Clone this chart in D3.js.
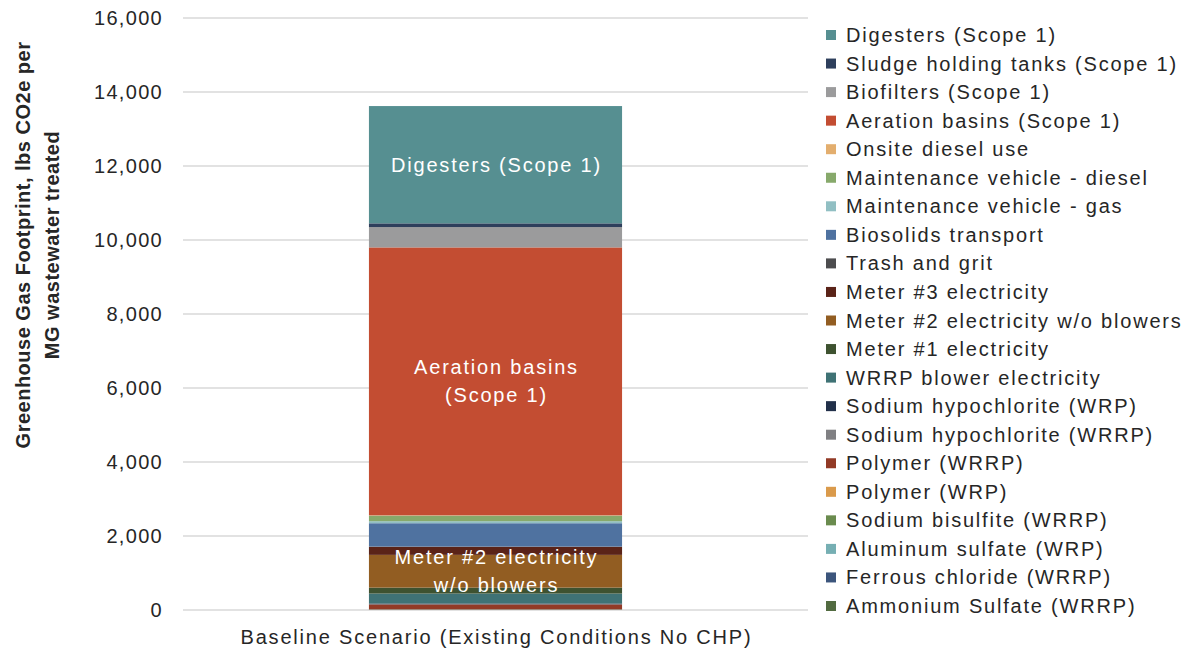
<!DOCTYPE html>
<html>
<head>
<meta charset="utf-8">
<script src="https://cdn.jsdelivr.net/npm/d3@7"></script>
<style>
  body { margin: 0; background: #fff; }
  text { font-family: "Liberation Sans", Arial, sans-serif; }
</style>
</head>
<body>
<svg id="chart" width="1187" height="654"></svg>
<script>
// series in stacking order, bottom first (legend lists them reversed)
const seriesNames = [
  "Ammonium Sulfate (WRRP)", "Ferrous chloride (WRRP)", "Aluminum sulfate (WRP)",
  "Sodium bisulfite (WRRP)", "Polymer (WRP)", "Polymer (WRRP)",
  "Sodium hypochlorite (WRRP)", "Sodium hypochlorite (WRP)", "WRRP blower electricity",
  "Meter #1 electricity", "Meter #2 electricity w/o blowers", "Meter #3 electricity",
  "Trash and grit", "Biosolids transport", "Maintenance vehicle - gas",
  "Maintenance vehicle - diesel", "Onsite diesel use", "Aeration basins (Scope 1)",
  "Biofilters (Scope 1)", "Sludge holding tanks (Scope 1)", "Digesters (Scope 1)"
];
const seriesValues = [
  3, 8, 2, 3, 4, 130,
  5, 20, 270,
  160, 885, 215,
  10, 630, 55,
  150, 10, 7240,
  550, 100, 3170
];
const seriesColors = [
  "#526b41", "#3c557c", "#76afb3", "#6a8b4e", "#da9a4b", "#923a26",
  "#808083", "#22304a", "#3f7275", "#3e5230", "#925d22", "#5a2318",
  "#4d4d4f", "#4f72a0", "#91bfc3", "#87a96b", "#e3ae6e", "#c34d32",
  "#9b9b9c", "#2e3f5c", "#568f91"
];
// segments that carry a label inside the bar
const barLabels = {
  "Digesters (Scope 1)": ["Digesters (Scope 1)"],
  "Aeration basins (Scope 1)": ["Aeration basins", "(Scope 1)"],
  "Meter #2 electricity w/o blowers": ["Meter #2 electricity", "w/o blowers"]
};
const category = "Baseline Scenario (Existing Conditions No CHP)";
const yTicks = [0, 2000, 4000, 6000, 8000, 10000, 12000, 14000, 16000];

const svg = d3.select("#chart");
const margin = { left: 183, right: 379, top: 18, bottom: 44 };
const width = 1187 - margin.left - margin.right;
const height = 654 - margin.top - margin.bottom;

const g = svg.append("g").attr("transform", `translate(${margin.left},${margin.top})`);

const y = d3.scaleLinear().domain([0, 16000]).range([height, 0]);
const x = d3.scaleBand().domain([category]).range([0, width]).paddingInner(0.595).paddingOuter(0.2975);

// gridlines
g.selectAll("line.grid")
  .data(yTicks)
  .join("line")
  .attr("class", "grid")
  .attr("x1", 0).attr("x2", width)
  .attr("y1", d => y(d)).attr("y2", d => y(d))
  .attr("stroke", "#d9d9d9").attr("stroke-width", 1.3);

// y tick labels
g.selectAll("text.ytick")
  .data(yTicks)
  .join("text")
  .attr("class", "ytick")
  .attr("x", -20).attr("y", d => y(d))
  .attr("dy", "0.35em")
  .attr("text-anchor", "end")
  .attr("font-size", 20)
  .attr("letter-spacing", 1.3)
  .attr("fill", "#262626")
  .text(d => d3.format(",")(d));

// stack
const row = { cat: category };
seriesNames.forEach((n, i) => row[n] = seriesValues[i]);
const stacked = d3.stack().keys(seriesNames)([row]);

g.selectAll("rect.seg")
  .data(stacked)
  .join("rect")
  .attr("class", "seg")
  .attr("x", d => x(d[0].data.cat))
  .attr("width", x.bandwidth())
  .attr("y", d => y(d[0][1]))
  .attr("height", d => y(d[0][0]) - y(d[0][1]))
  .attr("fill", (d, i) => seriesColors[i]);

// labels inside the bar
stacked.filter(s => barLabels[s.key]).forEach(s => {
  const lines = barLabels[s.key];
  const cy = (y(s[0][0]) + y(s[0][1])) / 2;
  const cx = x(category) + x.bandwidth() / 2 + 1;
  const t = g.append("text")
    .attr("text-anchor", "middle")
    .attr("font-size", 20)
    .attr("letter-spacing", 1.8)
    .attr("fill", "#fff");
  lines.forEach((l, i) => {
    t.append("tspan")
      .attr("x", cx)
      .attr("y", cy + (i - (lines.length - 1) / 2) * 28)
      .attr("dy", "0.35em")
      .text(l);
  });
});

// x category label
g.append("text")
  .attr("x", x(category) + x.bandwidth() / 2 + 1)
  .attr("y", height + 27)
  .attr("dy", "0.35em")
  .attr("text-anchor", "middle")
  .attr("font-size", 20)
  .attr("letter-spacing", 1.8)
  .attr("fill", "#262626")
  .text(category);

// y axis title
const yTitle = svg.append("text")
  .attr("transform", "translate(0,245) rotate(-90)")
  .attr("text-anchor", "middle")
  .attr("font-size", 20)
  .attr("font-weight", "bold")
  .attr("letter-spacing", 0.5)
  .attr("fill", "#262626");
yTitle.append("tspan").attr("x", 0).attr("y", 30).text("Greenhouse Gas Footprint, lbs CO2e per");
yTitle.append("tspan").attr("x", 0).attr("y", 59).text("MG wastewater treated");

// legend, top series first
const legendItems = seriesNames.map((n, i) => ({ name: n, color: seriesColors[i] })).reverse();
const legend = svg.append("g").attr("transform", "translate(826,35)");
const li = legend.selectAll("g")
  .data(legendItems)
  .join("g")
  .attr("transform", (d, i) => `translate(0,${i * 28.55})`);
li.append("rect")
  .attr("x", 0).attr("y", -5).attr("width", 10).attr("height", 10)
  .attr("fill", d => d.color);
li.append("text")
  .attr("x", 20).attr("y", 0).attr("dy", "0.35em")
  .attr("font-size", 20)
  .attr("letter-spacing", 1.8)
  .attr("fill", "#262626")
  .text(d => d.name);
</script>
</body>
</html>
